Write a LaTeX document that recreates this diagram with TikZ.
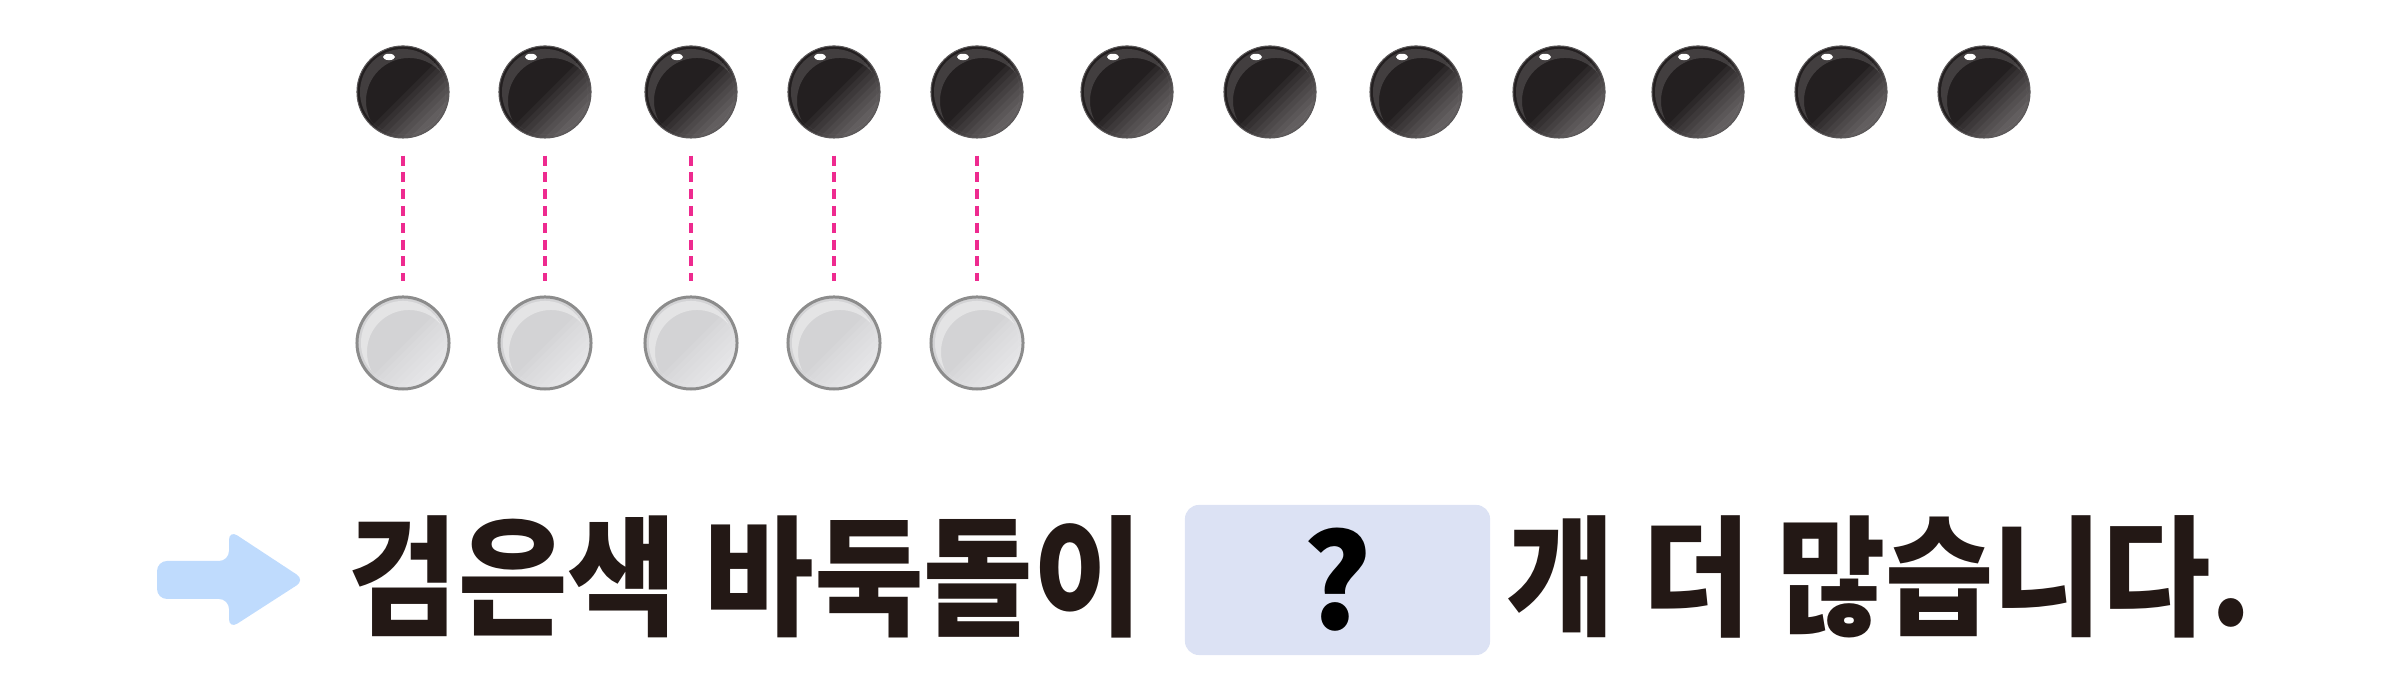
\documentclass[tikz,border=0pt]{standalone}
\usepackage{fontspec}
\usepackage{graphicx}
\usetikzlibrary{calc}
\newfontfamily\kr{Noto Sans CJK KR}
\definecolor{stoneblk}{HTML}{231F20}
\definecolor{wstone}{HTML}{D3D3D5}
\definecolor{wrim}{HTML}{8C8C8C}
\definecolor{linkpink}{HTML}{EE2A8F}
\definecolor{txt}{HTML}{231815}
\definecolor{boxfill}{HTML}{DCE2F4}
\definecolor{arrowblue}{HTML}{BFDBFD}
\tikzset{
  glossband/.style={
    insert path={
      ($(pc)+({(#1+0.7)*0.7071cm},{(0.7-#1)*0.7071cm})$) --
      ($(pc)+({(#1-0.7)*0.7071cm},{(-#1-0.7)*0.7071cm})$) --
      ($(pc)+({(#1-0.7)*0.7071cm+0.5cm},{(-#1-0.7)*0.7071cm-0.5cm})$) --
      ($(pc)+({(#1+0.7)*0.7071cm+0.5cm},{(0.7-#1)*0.7071cm-0.5cm})$) -- cycle}},
  blackstone/.style={circle, minimum size=0.92cm, inner sep=0pt, fill=stoneblk,
    draw=stoneblk!75!white, line width=0.3pt,
    path picture={
      \coordinate (pc) at (path picture bounding box.center);
      \foreach \d in {0.02,0.07,...,0.40}
        \fill[white, opacity=0.045, glossband=\d];
      \begin{scope}
        \clip (pc) circle (0.43cm);
        \fill[white, opacity=0.14, even odd rule] (pc) circle (0.43cm) ($(pc)+(0.06cm,-0.09cm)$) circle (0.43cm);
      \end{scope}
      \fill[white] ($(pc)+(-0.14cm,0.35cm)$) ellipse (0.06cm and 0.032cm);
    }},
  whitestone/.style={circle, minimum size=0.92cm, inner sep=0pt, fill=wstone,
    draw=wrim, line width=0.85pt,
    path picture={
      \coordinate (pc) at (path picture bounding box.center);
      \foreach \d in {0.02,0.07,...,0.40}
        \fill[white, opacity=0.08, glossband=\d];
      \begin{scope}
        \clip (pc) circle (0.42cm);
        \fill[white, opacity=0.4, even odd rule] (pc) circle (0.42cm) ($(pc)+(0.06cm,-0.09cm)$) circle (0.42cm);
      \end{scope}
    }},
  link/.style={draw=linkpink, line width=1.05pt, dash pattern=on 0.1cm off 0.068cm,
    shorten <=0.17cm, shorten >=0.14cm},
  krtext/.style={inner sep=0pt, text=txt, font=\kr\bfseries\fontsize{37}{40}\selectfont},
  answerbox/.style={rectangle, rounded corners=0.14cm, fill=boxfill, minimum width=3.05cm,
    minimum height=1.5cm, inner sep=0pt, text=black, font=\kr\bfseries\fontsize{37}{40}\selectfont},
}
\begin{document}
\begin{tikzpicture}[x=0.01cm, y=0.01cm]
\useasboundingbox (0,0) rectangle (2400,680);
% black stones
\foreach \i/\xx in {1/403,2/545,3/691,4/834,5/977,6/1127,7/1270,8/1416,9/1559,10/1698,11/1841,12/1984}
  \node[blackstone] (b\i) at (\xx,588) {};
% white stones
\foreach \i/\xx in {1/403,2/545,3/691,4/834,5/977}
  \node[whitestone] (w\i) at (\xx,337) {};
% links
\foreach \i in {1,...,5}
  \draw[link] (b\i.south) -- (w\i.north);
% arrow
\fill[arrowblue, rounded corners=0.1cm]
  (157,119) -- (229,119) -- (229,150) -- (305,100) -- (229,51) -- (229,81) -- (157,81) -- cycle;
% sentence
\node[krtext, anchor=base west] (t1) at (348,54) {\scalebox{0.915}[1]{검은색 바둑돌이}};
\node[answerbox] (box) at (1337.5,100) {?};
\node[krtext, anchor=base west] (t2) at (1506,54) {\scalebox{0.905}[1]{개 더 많습니다.}};
\end{tikzpicture}
\end{document}
